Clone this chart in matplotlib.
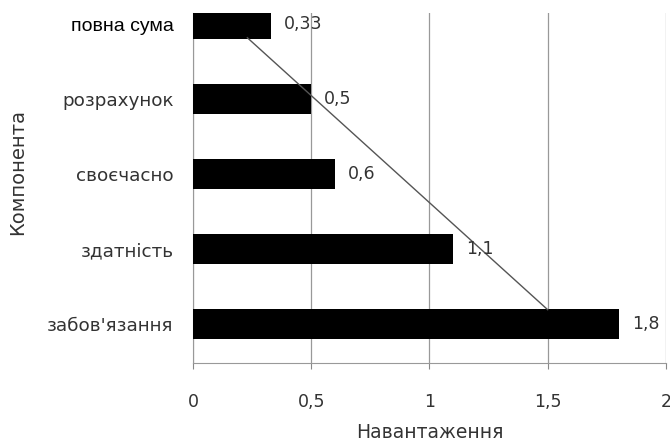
import matplotlib
matplotlib.use("Agg")
import matplotlib.pyplot as plt

# categories from bottom to top
categories = ["забов'язання", "здатність", "своєчасно", "розрахунок", "повна сума"]
values = [1.8, 1.1, 0.6, 0.5, 0.33]
value_labels = ["1,8", "1,1", "0,6", "0,5", "0,33"]
x_ticks = [0, 0.5, 1, 1.5, 2]
x_tick_labels = ["0", "0,5", "1", "1,5", "2"]

# hand-drawn trend line (data coords)
line_x = [1.5, 0.23]
line_y = [0.19, 3.82]

plt.rcParams['font.family'] = ['DejaVu Sans']
text_color = '#333333'

fig = plt.figure(figsize=(6.7, 4.41), dpi=100)
ax = fig.add_axes([0.288, 0.177, 0.706, 0.7935])

pos = list(range(len(categories)))
ax.barh(pos, values, height=0.4, color='black', zorder=3)
ax.plot(line_x, line_y, color='#555555', linewidth=1.0, zorder=4)

for p, v, lab in zip(pos, values, value_labels):
    ax.text(v + 0.055, p, lab, va='center', ha='left', fontsize=12.5, color=text_color, zorder=5)

ax.set_xlim(0, 2)
ax.set_ylim(-0.52, 4.15)
ax.set_xticks(x_ticks)
ax.set_xticklabels(x_tick_labels, fontsize=12.5, color=text_color)
ax.set_yticks(pos)
ax.set_yticklabels(categories, fontsize=13.2, color=text_color)
top_lab = ax.get_yticklabels()[-1]
top_lab.set_family(['Liberation Sans', 'DejaVu Sans'])
top_lab.set_color('black')
top_lab.set_fontsize(14)

ax.tick_params(axis='y', length=0, pad=14)
ax.tick_params(axis='x', length=4, color='#888888', pad=18, direction='out')

ax.grid(axis='x', color='#999999', linewidth=0.9, zorder=0)
for s in ['top', 'right']:
    ax.spines[s].set_visible(False)
ax.spines['left'].set_color('#999999')
ax.spines['bottom'].set_color('#999999')

ax.set_xlabel('Навантаження', fontsize=13.5, color=text_color)
ax.xaxis.set_label_coords(0.5, -0.2)
ax.xaxis.label.set_va('center')
ax.set_ylabel('Компонента', fontsize=14, color=text_color)
ax.yaxis.set_label_coords(-0.37, 0.546)
ax.yaxis.label.set_va('center')

fig.savefig('out.png', dpi=100)
